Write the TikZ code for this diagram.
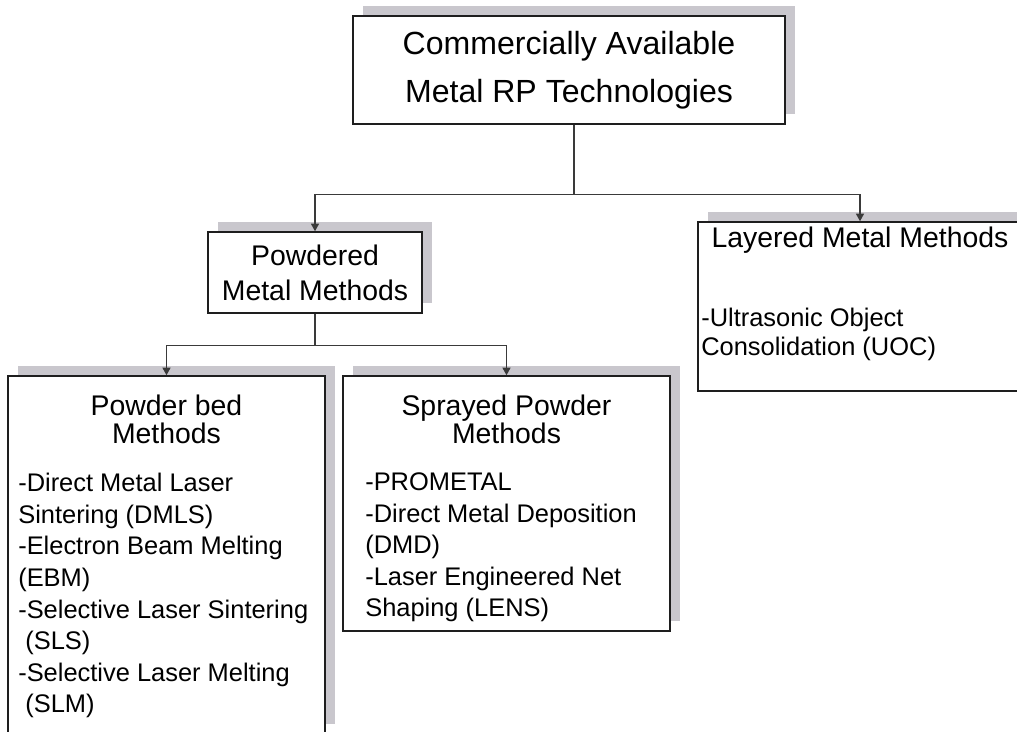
\documentclass[tikz,border=0pt]{standalone}
\usepackage{fontspec}
\setmainfont{Liberation Sans}
\usepackage{tikz}
\usetikzlibrary{arrows.meta, positioning, calc, shadows}
\definecolor{rpline}{HTML}{3A3A3A}
\definecolor{rpedge}{HTML}{1E1E1E}
\definecolor{rpshade}{HTML}{C9C7CD}

\begin{document}
\begin{tikzpicture}[
  x=1cm, y=1cm,
  line cap=butt, line join=miter,
  box/.style={draw=rpedge, line width=1.05pt, fill=white, inner sep=0pt,
    drop shadow={shadow xshift=0.25cm, shadow yshift=0.25cm, fill=rpshade, opacity=1}},
  link/.style={draw=rpline, line width=0.9pt},
  tip/.style={link, -{Triangle[length=0.19cm, width=0.2cm]}},
  toptxt/.style={font=\fontsize{22.8}{34.1}\selectfont, align=center},
  headtxt/.style={font=\fontsize{20.2}{20.6}\selectfont, align=center, inner sep=0pt, anchor=base},
  itemtxt/.style={font=\fontsize{18.1}{22.5}\selectfont, align=left, inner sep=0pt, anchor=base west},
]
\useasboundingbox (0,0) rectangle (25.425,18.3);
\clip (0,0) rectangle (25.425,18.3);

% ----- boxes -----
\node[box, toptxt, minimum width=10.8cm, minimum height=2.7cm] (top) at (14.225,16.55)
  {Commercially Available\\Metal RP Technologies};
\node[box, font=\fontsize{20.2}{24.9}\selectfont, align=center,
      minimum width=5.35cm, minimum height=2.025cm] (powdered) at (7.875,11.4875)
  {Powdered\\Metal Methods};
\node[box, minimum width=8.1cm, minimum height=4.225cm] (layered) at (21.5,10.6375) {};
\node[box, minimum width=7.925cm, minimum height=8.95cm] (bed) at (4.1625,4.425) {};
\node[box, minimum width=8.175cm, minimum height=6.375cm] (sprayed) at (12.6625,5.7125) {};

% ----- tree connectors -----
\coordinate (bus1) at ($([xshift=0.125cm]top.south)+(0,-1.7375)$);
\draw[link] ([xshift=0.125cm]top.south) -- (bus1);
\draw[tip] (bus1) -| (powdered.north);
\draw[tip] (bus1) -| (layered.north);
\coordinate (bus2) at ($(powdered.south)+(0,-0.7875)$);
\draw[link] (powdered.south) -- (bus2);
\draw[tip] (bus2) -| (bed.north);
\draw[tip] (bus2) -| (sprayed.north);

% ----- layered metal (base = last line) -----
\node[headtxt] (layhead) at (layered.center |- 0,12.1) {Layered Metal Methods};
\node[itemtxt, font=\fontsize{18.1}{21.3}\selectfont] (layitems) at (17.525,9.4)
  {-Ultrasonic Object\\Consolidation (UOC)};

% ----- powder bed -----
\node[headtxt] (bedhead) at (bed.center |- 0,7.2) {Powder bed\\Methods};
\node[itemtxt] (beditems) at (0.45,0.475)
  {-Direct Metal Laser\\Sintering (DMLS)\\-Electron Beam Melting\\(EBM)\\
   -Selective Laser Sintering\\~(SLS)\\-Selective Laser Melting\\~(SLM)};

% ----- sprayed powder -----
\node[headtxt] (sprhead) at (sprayed.center |- 0,7.2) {Sprayed Powder\\Methods};
\node[itemtxt] (spritems) at (9.125,2.875)
  {-PROMETAL\\-Direct Metal Deposition\\(DMD)\\-Laser Engineered Net\\Shaping (LENS)};
\end{tikzpicture}
\end{document}
